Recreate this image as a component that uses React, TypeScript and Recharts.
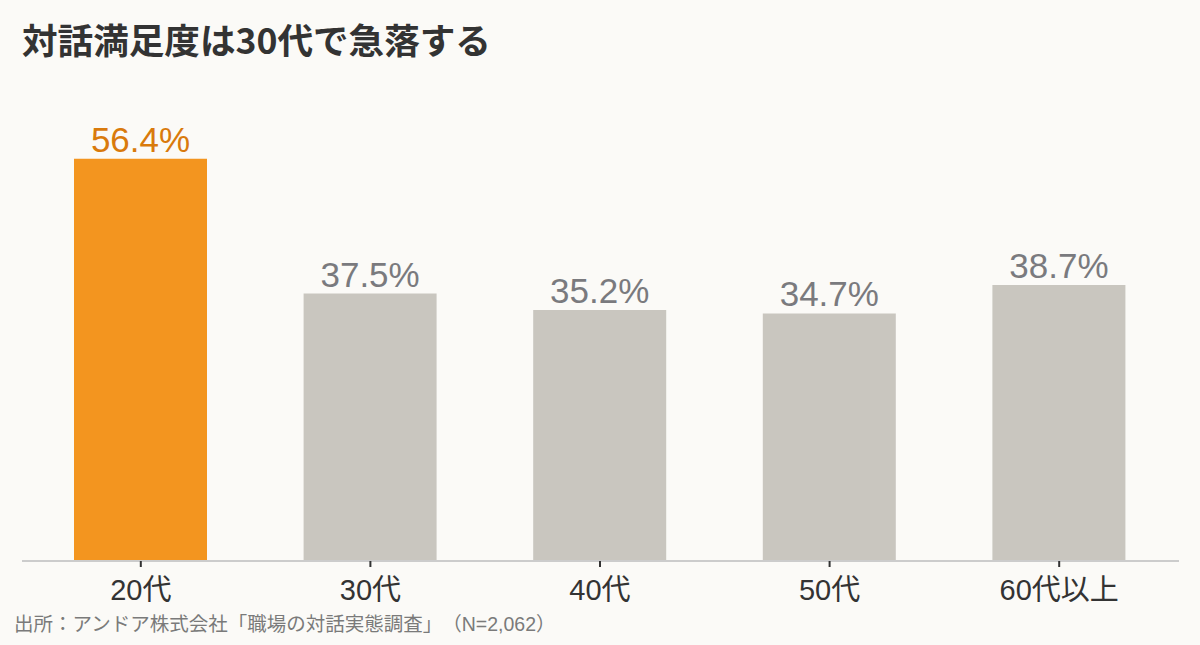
import React from "react";
import { BarChart, Bar, XAxis, YAxis, Cell, LabelList } from "recharts";

const categories = ["20代", "30代", "40代", "50代", "60代以上"];
const satisfaction = [56.4, 37.5, 35.2, 34.7, 38.7];
const yDomain = [0, 60];

const titleText = "対話満足度は30代で急落する";
const sourceText = "出所：アンドア株式会社「職場の対話実態調査」（N=2,062）";

const data = categories.map((age, i) => ({ age, value: satisfaction[i] }));

const BG = "#FBFAF7";
const HIGHLIGHT_BAR = "#F3951F";
const HIGHLIGHT_TEXT = "#D97A0C";
const BASE_BAR = "#C9C6BF";
const BASE_TEXT = "#7A7A7E";
const FONT = '"Liberation Sans", "Noto Sans CJK JP", sans-serif';
const CJK = '"Noto Sans CJK JP", "Liberation Sans", sans-serif';

const renderLabel = (props: any) => {
  const { x, y, width, value, index } = props;
  const fill = index === 0 ? HIGHLIGHT_TEXT : BASE_TEXT;
  return (
    <text
      x={Number(x) + Number(width) / 2}
      y={Number(y) - 7}
      textAnchor="middle"
      fill={fill}
      fontSize={35}
      fontFamily={FONT}
    >
      {`${Number(value).toFixed(1)}%`}
    </text>
  );
};

export default function App() {
  return (
    <div style={{ position: "relative", width: 1200, height: 645, background: BG, overflow: "hidden" }}>
      <style>{`body{margin:0;}`}</style>
      <div
        style={{
          position: "absolute",
          left: 22,
          top: 21,
          fontSize: 35.6,
          lineHeight: 1,
          fontWeight: 700,
          color: "#333333",
          fontFamily: CJK,
          whiteSpace: "nowrap",
        }}
      >
        {titleText}
      </div>
      <BarChart
        width={1200}
        height={645}
        data={data}
        margin={{ top: 133, right: 21, left: 22, bottom: 24 }}
      >
        <YAxis hide domain={yDomain} type="number" />
        <XAxis
          dataKey="age"
          interval={0}
          height={60}
          padding={{ left: 4, right: 5 }}
          tickSize={6}
          tickMargin={12}
          tick={{ fill: "#333333", fontSize: 29, fontFamily: FONT }}
          tickLine={{ stroke: "#333333", strokeWidth: 2 }}
          axisLine={{ stroke: "#CCCCCC", strokeWidth: 2 }}
        />
        <Bar dataKey="value" barSize={133} isAnimationActive={false}>
          {data.map((d, i) => (
            <Cell key={d.age} fill={i === 0 ? HIGHLIGHT_BAR : BASE_BAR} />
          ))}
          <LabelList dataKey="value" content={renderLabel} />
        </Bar>
      </BarChart>
      <div
        style={
          {
            position: "absolute",
            left: 14,
            top: 615,
            fontSize: 19.5,
            lineHeight: 1,
            color: "#7A7A7A",
            fontFamily: FONT,
            whiteSpace: "nowrap",
            textSpacingTrim: "space-all",
          } as any
        }
      >
        {sourceText}
      </div>
    </div>
  );
}
